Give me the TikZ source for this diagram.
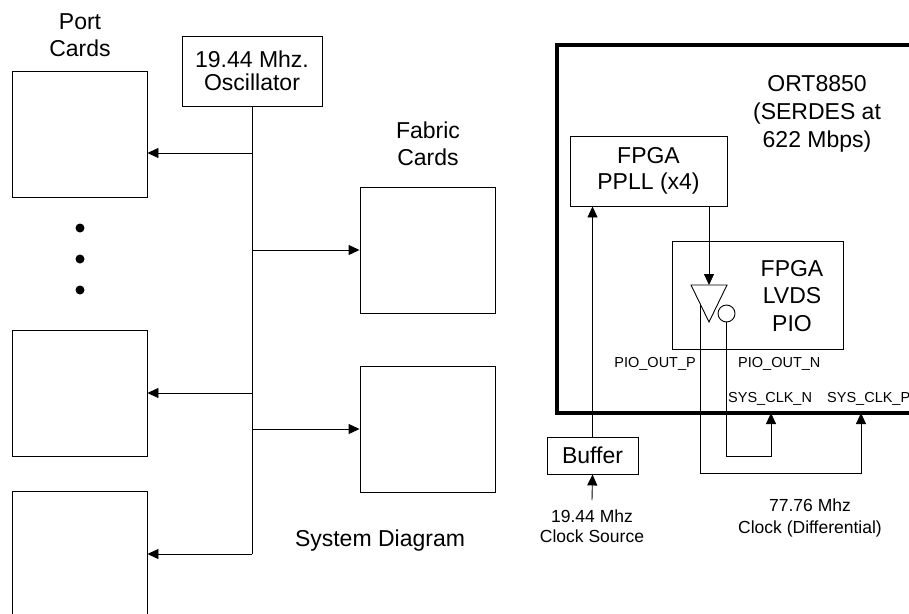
\documentclass[tikz,border=0pt]{standalone}
\usepackage{fontspec}
\setmainfont{Liberation Sans}
\usetikzlibrary{arrows.meta,calc,positioning}

\tikzset{
    card/.style={draw, line width=0.9pt, minimum width=135pt, minimum height=126pt, inner sep=0pt},
    blockbox/.style={draw, line width=0.9pt, inner sep=0pt, align=center},
    bigtext/.style={font=\fontsize{23}{27}\selectfont, align=center, inner sep=0pt},
    midtext/.style={font=\fontsize{17.5}{21}\selectfont, align=center, inner sep=0pt},
    pintext/.style={font=\fontsize{14.5}{17}\selectfont, inner sep=0pt},
    wire/.style={line width=0.9pt},
    feed/.style={wire, -{Triangle[length=11pt,width=10pt]}},
}

\begin{document}
\begin{tikzpicture}[x=1pt, y=-1pt]
            \path[use as bounding box, clip] (0,0) rectangle (909,613);

            % Port cards
            \node[bigtext, anchor=north] (porttxt) at (80,13) {Port\\Cards};
            \node[card] (port1) at (79.5,134) {};
            \node[card] (port2) at (79.5,393) {};
            \node[card] (port3) at (79.5,554) {};
            \foreach \y in {228,259,290} {
                \fill (80,\y) circle (4.5);
            }

            % Oscillator and clock tree
            \node[blockbox, minimum width=140pt, minimum height=70pt,
                  font=\fontsize{23}{23}\selectfont] (osc) at (252,71) {19.44 Mhz.\\Oscillator};
            \coordinate (port1in) at ([yshift=-19pt]port1.east);
            \draw[wire] (osc.south) -- (osc.south |- port3.east);
            \draw[feed] (osc.south |- port1in) -- (port1in);
            \draw[feed] (osc.south |- port2.east) -- (port2.east);
            \draw[feed] (osc.south |- port3.east) -- (port3.east);

            % Fabric cards
            \node[bigtext, anchor=north] (fabtxt) at (428,122) {Fabric\\Cards};
            \node[card] (fab1) at (427.5,250) {};
            \node[card] (fab2) at (427.5,429) {};
            \draw[feed] (osc.south |- fab1.west) -- (fab1.west);
            \draw[feed] (osc.south |- fab2.west) -- (fab2.west);

            \node[bigtext, anchor=north] (systxt) at (380,530) {System Diagram};

            % ORT8850 device
            \node[draw, line width=3.5pt, minimum width=400pt, minimum height=368pt,
                  anchor=north west, inner sep=0pt] (ort) at (555,43) {};
            \node[bigtext, anchor=north, font=\fontsize{23}{28}\selectfont] (orttxt) at (817,75) {ORT8850\\(SERDES at\\622 Mbps)};

            \node[blockbox, minimum width=157pt, minimum height=70pt,
                  font=\fontsize{23}{26}\selectfont] (ppll) at (648.5,171) {FPGA\\PPLL (x4)};
            \node[blockbox, minimum width=171pt, minimum height=108pt] (lvds) at (757.5,295) {};
            \node[bigtext, anchor=north, font=\fontsize{23}{27.5}\selectfont] (lvdstxt) at (792,260) {FPGA\\LVDS\\PIO};

            % LVDS driver
            \coordinate (drv) at (709,285);
            \draw[wire] ($(drv)+(-18,0)$) -- ($(drv)+(18,0)$) -- ($(drv)+(0,37)$) -- cycle;
            \node[draw, wire, circle, minimum size=17pt, inner sep=0pt] (bub) at (726.5,313.5) {};
            \coordinate (outp) at ($(drv)+(-9,19)$);
            \draw[feed] (ppll.south -| drv) -- (drv);

            \node[pintext, anchor=north east] (pinp) at (696,357) {PIO\_OUT\_P};
            \node[pintext, anchor=north west] (pinn) at (738,357) {PIO\_OUT\_N};
            \node[pintext, anchor=north west] (clkntxt) at (728,392) {SYS\_CLK\_N};
            \node[pintext, anchor=north west] (clkptxt) at (827,392) {SYS\_CLK\_P};

            % Clock loop back
            \coordinate (clkn) at (771,413);
            \coordinate (clkp) at (861,413);
            \draw[feed] (bub.south) -- ++(0,134) -| (clkn);
            \draw[feed] (outp) -- ++(0,169) -| (clkp);
            \node[midtext, anchor=north, font=\fontsize{17.5}{22}\selectfont] (difftxt) at (810,499) {77.76 Mhz\\Clock (Differential)};

            % Clock source
            \node[blockbox, minimum width=91pt, minimum height=37pt,
                  font=\fontsize{23}{27}\selectfont] (buf) at (592.5,455.5) {Buffer};
            \node[midtext, anchor=north, font=\fontsize{17.5}{20}\selectfont] (src) at (592,510) {19.44 Mhz\\Clock Source};
            \draw[feed] (buf.north) -- (buf.north |- ppll.south);
            \draw[feed] ([yshift=10pt]src.north) -- (buf.south);
\end{tikzpicture}
\end{document}
